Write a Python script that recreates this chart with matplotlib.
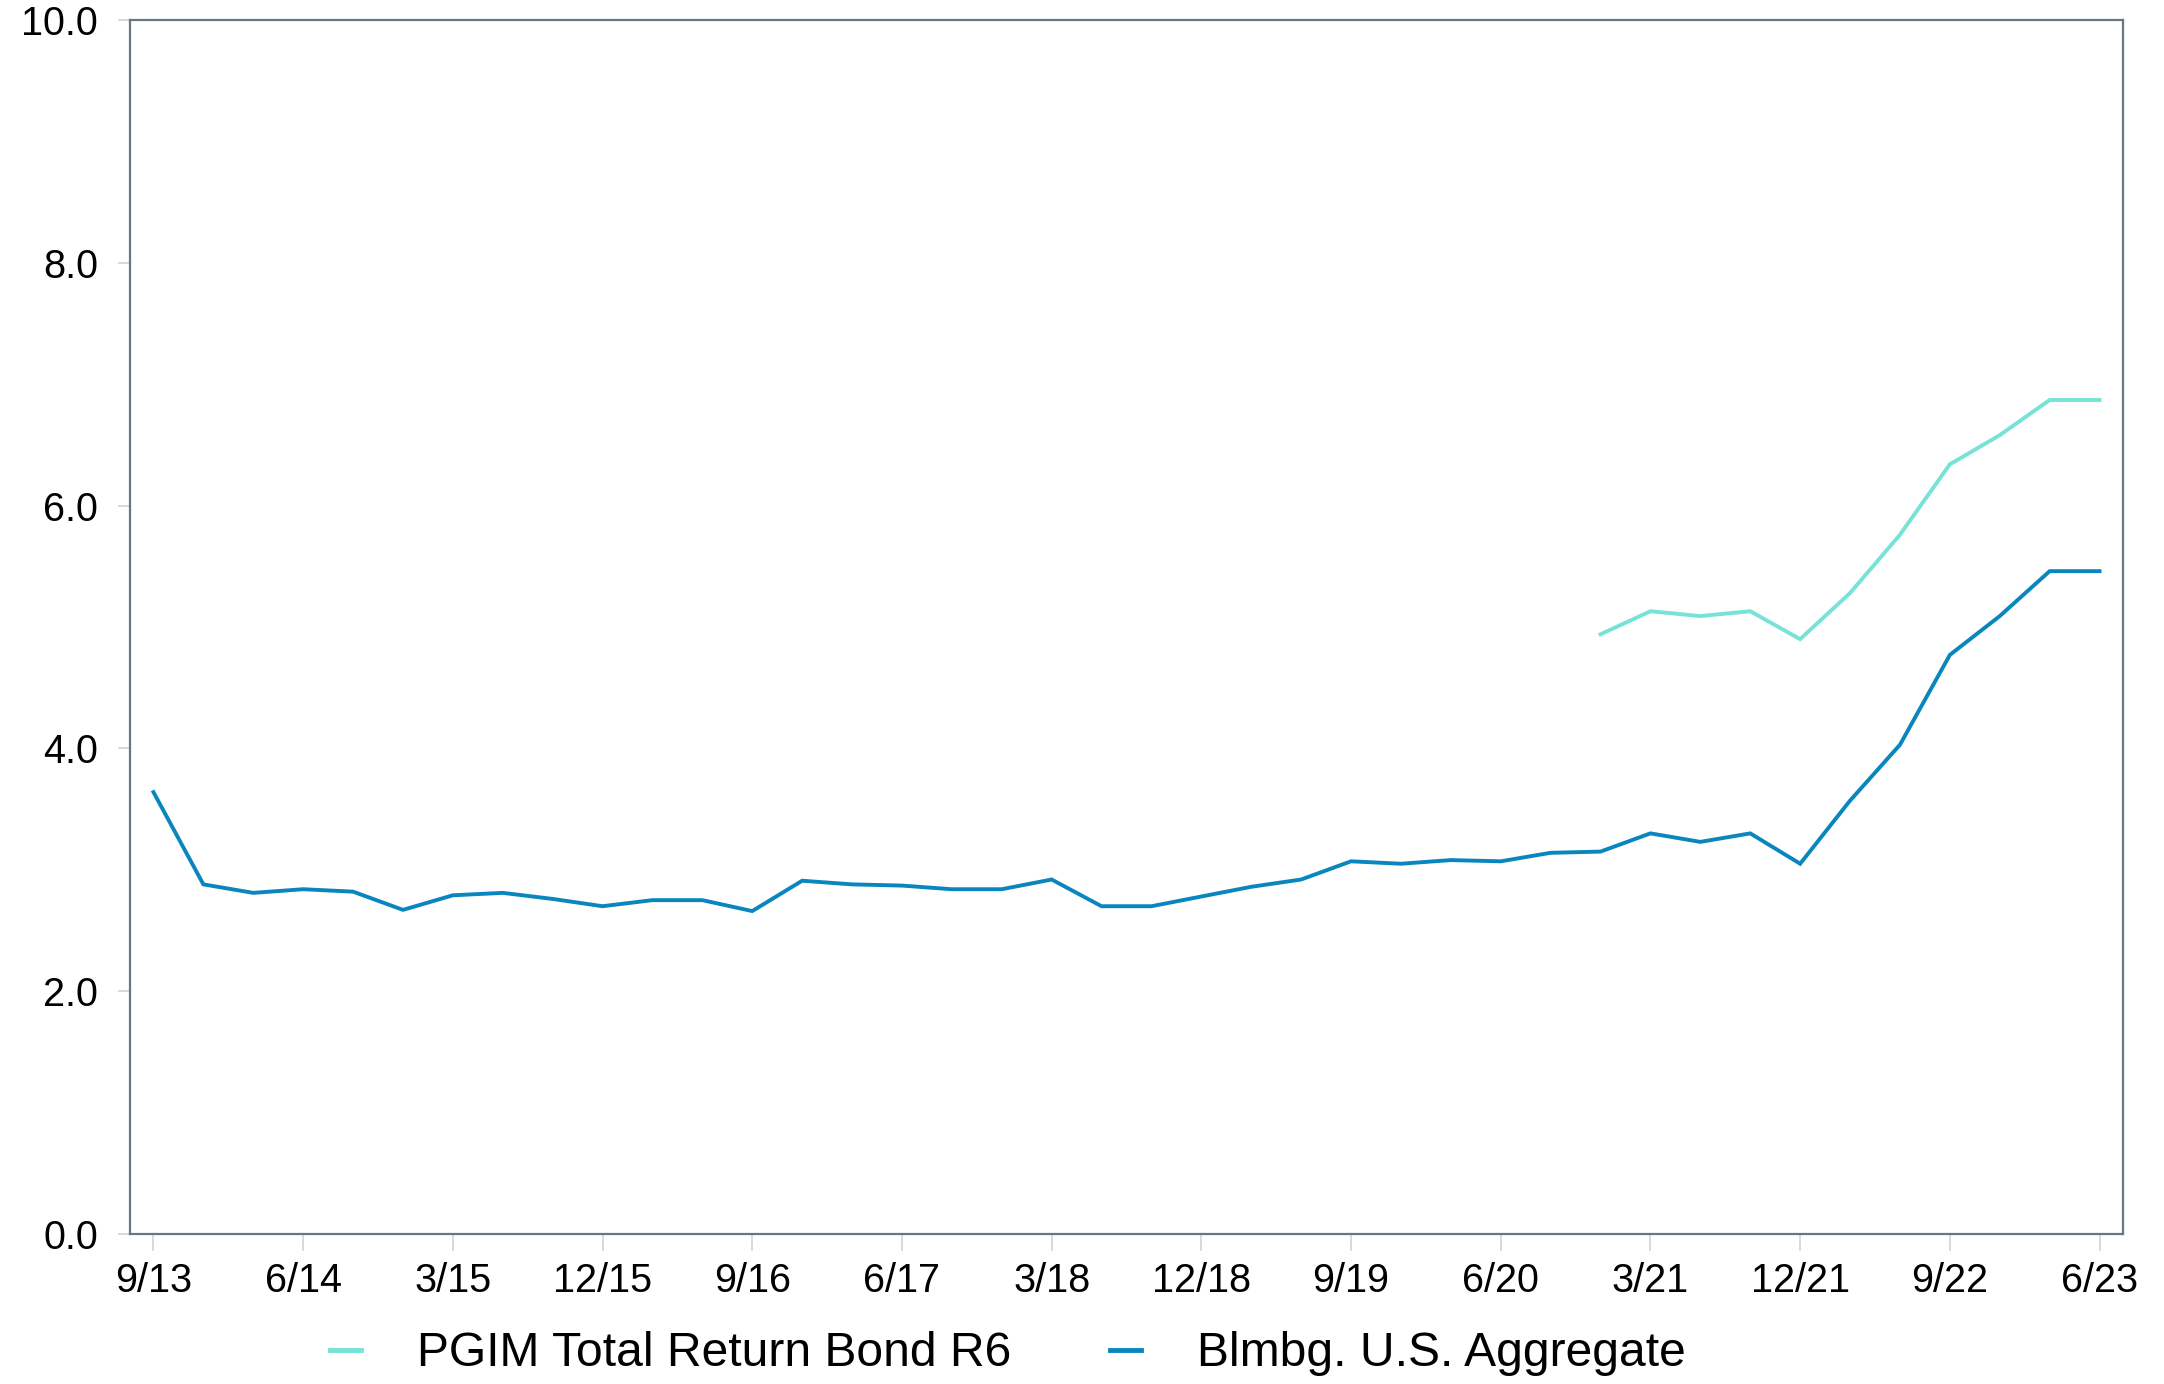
import matplotlib
matplotlib.use("Agg")
import matplotlib.pyplot as plt
import numpy as np

plt.rcParams['font.family'] = ['Liberation Sans', 'DejaVu Sans']

quarters = ["9/13", "12/13", "3/14", "6/14", "9/14", "12/14", "3/15", "6/15", "9/15", "12/15",
            "3/16", "6/16", "9/16", "12/16", "3/17", "6/17", "9/17", "12/17", "3/18", "6/18",
            "9/18", "12/18", "3/19", "6/19", "9/19", "12/19", "3/20", "6/20", "9/20", "12/20",
            "3/21", "6/21", "9/21", "12/21", "3/22", "6/22", "9/22", "12/22", "3/23", "6/23"]

blmbg = [3.64, 2.88, 2.81, 2.84, 2.82, 2.67, 2.79, 2.81, 2.76, 2.70,
         2.75, 2.75, 2.66, 2.91, 2.88, 2.87, 2.84, 2.84, 2.92, 2.70,
         2.70, 2.78, 2.86, 2.92, 3.07, 3.05, 3.08, 3.07, 3.14, 3.15,
         3.30, 3.23, 3.30, 3.05, 3.57, 4.03, 4.77, 5.09, 5.46, 5.46]

pgim = [None] * 29 + [4.94, 5.13, 5.09, 5.13, 4.90, 5.28, 5.76, 6.34, 6.58, 6.87, 6.87]

tick_labels = quarters[::3]
yticks = [0, 2, 4, 6, 8, 10]

pgim_color = "#78e2d8"
blmbg_color = "#0a86bf"
spine_color = "#6b7683"
tick_color = "#d3d3d3"

fig = plt.figure(figsize=(21.64, 13.84), dpi=100)
ax = fig.add_axes([130/2164, 1 - 1234/1384, (2123 - 130)/2164, (1234 - 20)/1384])

x = np.arange(len(quarters))
pg = np.array([np.nan if v is None else v for v in pgim], dtype=float)
ax.plot(x, pg, color=pgim_color, lw=2.8, label="PGIM Total Return Bond R6", solid_joinstyle='miter')
ax.plot(x, blmbg, color=blmbg_color, lw=2.8, label="Blmbg. U.S. Aggregate", solid_joinstyle='miter')

ax.set_xlim(-0.47, 39.47)
ax.set_ylim(0, 10)
ax.set_xticks(x[::3])
ax.set_xticklabels(tick_labels)
ax.set_yticks(yticks)
ax.set_yticklabels([f"{v:.1f}" for v in yticks])

for s in ax.spines.values():
    s.set_color(spine_color)
    s.set_linewidth(1.6)

ax.tick_params(axis='y', direction='out', length=9, width=1.2, color=tick_color,
               labelsize=28.5, pad=14, labelcolor='black')
ax.tick_params(axis='x', direction='out', length=12, width=1.2, color=tick_color,
               labelsize=28.5, pad=8, labelcolor='black')

leg = fig.legend(loc='center', bbox_to_anchor=(1008/2164, 1 - 1354/1384), ncol=2,
                 frameon=False, fontsize=34.6, handlelength=0.64, handletextpad=1.16,
                 columnspacing=2.07)
for h in leg.get_lines():
    h.set_linewidth(3.5)

fig.savefig("out.png", dpi=100)
